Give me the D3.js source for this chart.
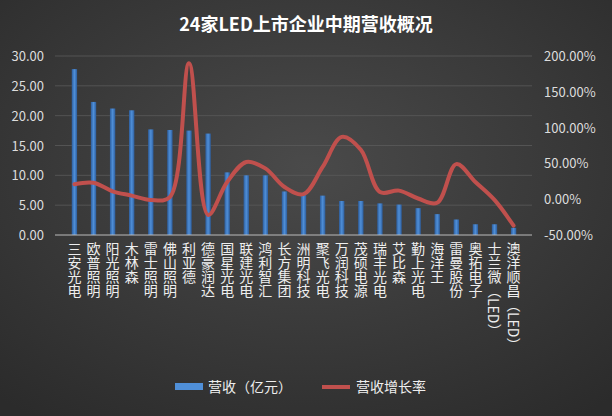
<!DOCTYPE html><html><head><meta charset="utf-8"><script src="https://d3js.org/d3.v7.min.js"></script>
<style>body{margin:0;background:#333}text{font-family:"Noto Sans CJK SC",sans-serif}</style></head><body>
<svg id="c" width="612" height="416"></svg>
<script>
const categories=["三安光电","欧普照明","阳光照明","木林森","雷士照明","佛山照明","利亚德","德豪润达","国星光电","联建光电","鸿利智汇","长方集团","洲明科技","聚飞光电","万润科技","茂硕电源","瑞丰光电","艾比森","勤上光电","海洋王","雷曼股份","奥拓电子","士兰微（LED）","澳洋顺昌（LED）"];
const revenue=[27.8,22.3,21.2,20.9,17.7,17.6,17.5,17.0,10.5,10.0,10.0,7.3,6.7,6.6,5.7,5.7,5.3,5.1,4.5,3.5,2.6,1.8,1.8,1.2];
const growth=[21,23,11,5,-1,3,190,-22,24,52,43,17,7,45,87,69,10,12,1,-5,49,24,-1,-37];
const leftTicks=[0,5,10,15,20,25,30];
const rightTicks=[-50,0,50,100,150,200];
const svg=d3.select("#c");
const defs=svg.append("defs");
const g=defs.append("radialGradient").attr("id","bg").attr("cx","50%").attr("cy","40%").attr("r","75%");
g.append("stop").attr("offset","0%").attr("stop-color","#4a4a4a");
g.append("stop").attr("offset","100%").attr("stop-color","#2b2b2b");
const bb=defs.append("linearGradient").attr("id","bar");
bb.append("stop").attr("offset","0%").attr("stop-color","#2d5e9e");
bb.append("stop").attr("offset","50%").attr("stop-color","#4f8fd8");
bb.append("stop").attr("offset","100%").attr("stop-color","#2d5e9e");
svg.append("rect").attr("width",612).attr("height",416).attr("fill","url(#bg)");
const x=d3.scaleBand().domain(categories).range([58,530]).padding(0.72);
const y=d3.scaleLinear().domain([0,30]).range([235,56]);
const y2=d3.scaleLinear().domain([-50,200]).range([235,56]);
svg.append("text").attr("x",306).attr("y",31).attr("text-anchor","middle").attr("fill","#fff").attr("font-size",18).attr("font-weight","bold").text("24家LED上市企业中期营收概况");
svg.append("g").selectAll("line").data(leftTicks.slice(1)).join("line").attr("x1",55).attr("x2",532).attr("y1",d=>y(d)).attr("y2",d=>y(d)).attr("stroke","#5a5a5a").attr("stroke-width",0.8);
svg.append("g").selectAll("text").data(leftTicks).join("text").attr("x",44).attr("y",d=>y(d)+5).attr("text-anchor","end").attr("fill","#ddd").attr("font-size",13).text(d=>d.toFixed(2));
svg.append("g").selectAll("text").data(rightTicks).join("text").attr("x",544).attr("y",d=>y2(d)+5).attr("fill","#ddd").attr("font-size",13).text(d=>d.toFixed(2)+"%");
svg.append("g").selectAll("rect").data(revenue).join("rect").attr("x",(d,i)=>x(categories[i])).attr("width",x.bandwidth()).attr("y",d=>y(d)).attr("height",d=>y(0)-y(d)).attr("fill","url(#bar)");
svg.append("line").attr("x1",55).attr("x2",532).attr("y1",235).attr("y2",235).attr("stroke","#bbb");
const line=d3.line().x((d,i)=>x(categories[i])+x.bandwidth()/2).y(d=>y2(d)).curve(d3.curveCatmullRom.alpha(0.5));
svg.append("path").datum(growth).attr("d",line).attr("fill","none").attr("stroke","#c0504d").attr("stroke-width",4).attr("stroke-linecap","round");
svg.append("g").selectAll("text").data(categories).join("text").attr("x",(d,i)=>x(d)+x.bandwidth()/2).attr("y",242).attr("fill","#eee").attr("font-size",14).style("writing-mode","vertical-rl").style("text-orientation","mixed").text(d=>d);
svg.append("rect").attr("x",175).attr("y",383).attr("width",28).attr("height",7).attr("fill","#4f8fd8");
svg.append("text").attr("x",208).attr("y",392).attr("fill","#eee").attr("font-size",14).text("营收（亿元）");
svg.append("line").attr("x1",322).attr("x2",350).attr("y1",387).attr("y2",387).attr("stroke","#c0504d").attr("stroke-width",4);
svg.append("text").attr("x",356).attr("y",392).attr("fill","#eee").attr("font-size",14).text("营收增长率");
</script></body></html>
